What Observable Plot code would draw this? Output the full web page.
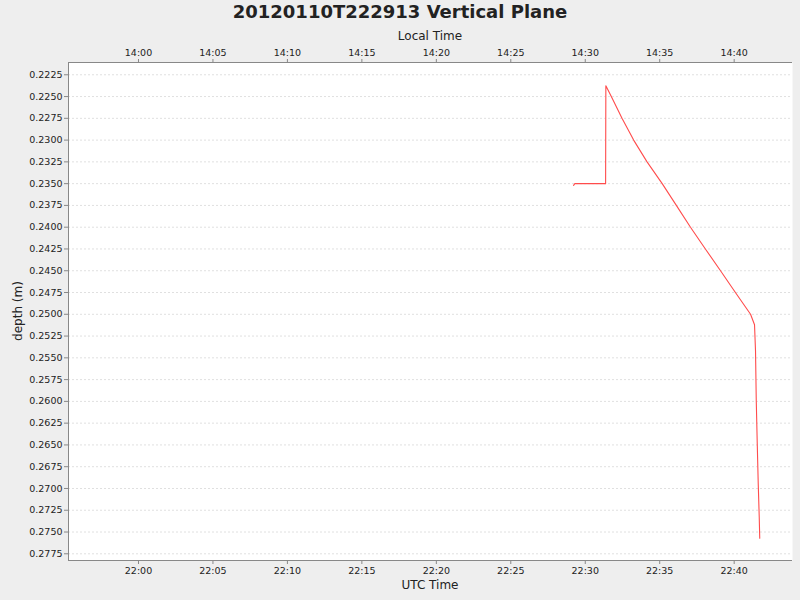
<!DOCTYPE html>
<html>
<head>
<meta charset="utf-8">
<script src="https://cdn.jsdelivr.net/npm/d3@7"></script>
<script src="https://cdn.jsdelivr.net/npm/@observablehq/plot@0.6"></script>
<style>
  html, body { margin: 0; padding: 0; background: #eeeeee; }
  #wrap { position: relative; width: 800px; height: 600px; overflow: hidden; font-family: "DejaVu Sans", sans-serif; }
  .lbl { position: absolute; color: #222; white-space: nowrap; }
</style>
</head>
<body>
<div id="wrap">
  <div class="lbl" id="title" style="left:0;width:800px;top:1px;text-align:center;font-weight:bold;font-size:18px;">20120110T222913 Vertical Plane</div>
  <div class="lbl" style="left:68px;width:724px;top:29px;text-align:center;font-size:12px;">Local Time</div>
  <div class="lbl" style="left:68px;width:724px;top:578px;text-align:center;font-size:12px;">UTC Time</div>
  <div class="lbl" style="left:18px;top:311px;font-size:12px;transform:translate(-50%,-50%) rotate(-90deg);">depth (m)</div>
</div>
<script>
// UTC sample times and depths (m)
const utcTimes = ["22:29:13","22:29:18","22:31:22","22:31:23","22:31:45","22:32:28","22:33:15","22:34:09","22:35:10","22:36:07","22:37:04","22:38:04","22:39:05","22:40:05","22:41:06","22:41:22","22:41:26","22:41:29","22:41:33","22:41:37","22:41:41","22:41:43"];
const depths   = [0.2352,0.2350,0.2350,0.22376,0.2250,0.2275,0.2300,0.2325,0.2350,0.2375,0.2400,0.2425,0.2450,0.2475,0.2500,0.2512,0.2542,0.2599,0.2649,0.2695,0.2733,0.2757];

const utcTickLabels   = ["22:00","22:05","22:10","22:15","22:20","22:25","22:30","22:35","22:40"];
const localTickLabels = ["14:00","14:05","14:10","14:15","14:20","14:25","14:30","14:35","14:40"];
const depthTickLabels = ["0.2225","0.2250","0.2275","0.2300","0.2325","0.2350","0.2375","0.2400","0.2425","0.2450","0.2475","0.2500","0.2525","0.2550","0.2575","0.2600","0.2625","0.2650","0.2675","0.2700","0.2725","0.2750","0.2775"];
const xDomainLabels = ["21:55:18","22:43:55"];
const yDomain = [0.22109, 0.27827];

const toDate = s => { const [h,m,sec] = s.split(":").map(Number); return new Date(Date.UTC(2012,0,10,h,m,sec||0)); };
const data = utcTimes.map((t,i) => ({time: toDate(t), depth: depths[i]}));
const xTicks = utcTickLabels.map(toDate);
const yTicks = depthTickLabels.map(Number);
const xDomain = xDomainLabels.map(toDate);

const axisColor = "#888888";
const chart = Plot.plot({
  width: 800, height: 600,
  marginLeft: 68, marginRight: 8, marginTop: 62, marginBottom: 40,
  style: {background: "transparent", fontFamily: "DejaVu Sans, sans-serif", fontSize: "9.5px", color: "#222", overflow: "visible"},
  x: {type: "utc", domain: xDomain},
  y: {domain: yDomain, reverse: true},
  marks: [
    Plot.frame({fill: "white", stroke: null}),
    Plot.gridY(yTicks, {stroke: "#e0e0e0", strokeOpacity: 1, strokeDasharray: "2,2"}),
    Plot.ruleX([xDomain[0]], {stroke: axisColor}),
    Plot.ruleY([yDomain[0]], {stroke: axisColor}),
    Plot.ruleY([yDomain[1]], {stroke: axisColor}),
    Plot.axisX(xTicks, {anchor: "bottom", tickSize: 4, tickPadding: 3, stroke: axisColor,
      tickFormat: d => utcTickLabels[xTicks.findIndex(t => +t === +d)], label: null}),
    Plot.axisX(xTicks, {anchor: "top", tickSize: 4, tickPadding: 3, stroke: axisColor,
      tickFormat: d => localTickLabels[xTicks.findIndex(t => +t === +d)], label: null}),
    Plot.axisY(yTicks, {anchor: "left", tickSize: 4, tickPadding: 2, stroke: axisColor,
      tickFormat: d => depthTickLabels[yTicks.indexOf(d)], label: null}),
    Plot.line(data, {x: "time", y: "depth", stroke: "#ff4c4c", strokeWidth: 1.1})
  ]
});
chart.style.position = "absolute";
chart.style.left = "0px";
chart.style.top = "0px";
const wrap = document.getElementById("wrap");
wrap.insertBefore(chart, wrap.firstChild);
</script>
</body>
</html>
